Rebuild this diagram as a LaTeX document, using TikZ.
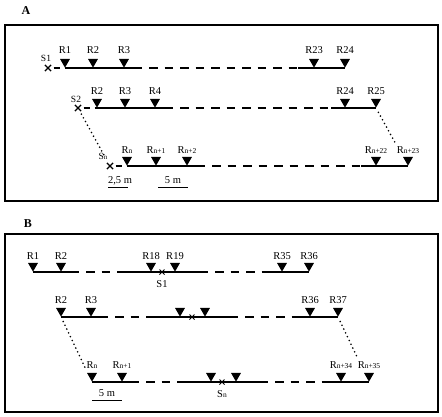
\documentclass[tikz,border=0pt]{standalone}
\usepackage{fontspec}
\setmainfont{Liberation Serif}
\usetikzlibrary{shapes.geometric,shapes.misc}
\newcommand\rsub[1]{R{\fontsize{7.5}{8}\selectfont #1}}
\begin{document}
\begin{tikzpicture}[x=1pt,y=-1pt,
  rec/.style={regular polygon, regular polygon sides=3, shape border rotate=180,
    fill=black, draw=none, inner sep=0pt, minimum size=11.5pt, anchor=corner 1},
  lbl/.style={inner sep=0pt, anchor=base, font=\fontsize{10.5}{12}\selectfont},
  slbl/.style={inner sep=0pt, font=\fontsize{9.5}{10}\selectfont},
  seg/.style={line width=1.4pt},
  dseg/.style={line width=1.4pt, dash pattern=on 8.5pt off 7pt, dash phase=8.5pt},
  dotseg/.style={line width=1.8pt, line cap=round, dash pattern=on 0pt off 4.2pt},
  xmark/.style={cross out, draw, line width=1.2pt, minimum size=5pt, inner sep=0pt},
  bmark/.style={cross out, draw, line width=1pt, minimum size=4pt, inner sep=0pt},
  frame/.style={line width=1.2pt},
  bar/.style={line width=1pt}]
\useasboundingbox (0,0) rectangle (442,416);
% ---------------- Panel A ----------------
\node[font=\bfseries\fontsize{12}{14}\selectfont, inner sep=0pt] (tA) at (26,11) {A};
\draw[frame] (5,25) rectangle (438,201);
% row 1
\node[xmark] (aS1) at (48,68) {};
\node[slbl] (aS1l) at (46,58) {S1};
\node[rec] (a1r1) at (65,68) {};
\node[rec] (a1r2) at (93,68) {};
\node[rec] (a1r3) at (124,68) {};
\node[rec] (a1r23) at (314,68) {};
\node[rec] (a1r24) at (345,68) {};
\coordinate (a1e) at (142,68);
\coordinate (a1b) at (298,68);
\node[lbl] (a1l1) at (65,53) {R1};
\node[lbl] (a1l2) at (93,53) {R2};
\node[lbl] (a1l3) at (124,53) {R3};
\node[lbl] (a1l23) at (314,53) {R23};
\node[lbl] (a1l24) at (345,53) {R24};
\draw[line width=1.2pt, dash pattern=on 6pt off 5pt, dash phase=8pt] (aS1.center) ++(2.5,0) -- (a1r1.corner 1);
\draw[seg] (a1r1.corner 1) -- (a1e);
\draw[dseg] (a1e) -- (a1b);
\draw[seg] (a1b) -- (a1r24.corner 1);
% row 2
\node[xmark] (aS2) at (78,108) {};
\node[slbl] (aS2l) at (76,99) {S2};
\node[rec] (a2r2) at (97,108) {};
\node[rec] (a2r3) at (125,108) {};
\node[rec] (a2r4) at (155,108) {};
\node[rec] (a2r24) at (345,108) {};
\node[rec] (a2r25) at (376,108) {};
\coordinate (a2e) at (173,108);
\coordinate (a2b) at (331,108);
\node[lbl] (a2l2) at (97,94) {R2};
\node[lbl] (a2l3) at (125,94) {R3};
\node[lbl] (a2l4) at (155,94) {R4};
\node[lbl] (a2l24) at (345,94) {R24};
\node[lbl] (a2l25) at (376,94) {R25};
\draw[line width=1.2pt, dash pattern=on 6pt off 5pt, dash phase=8pt] (aS2.center) ++(2.5,0) -- (a2r2.corner 1);
\draw[seg] (a2r2.corner 1) -- (a2e);
\draw[dseg] (a2e) -- (a2b);
\draw[seg] (a2b) -- (a2r25.corner 1);
% row 3
\node[xmark] (aSn) at (110,166) {};
\node[slbl] (aSnl) at (103,156) {S{\fontsize{7}{8}\selectfont n}};
\node[rec] (a3r1) at (127,166) {};
\node[rec] (a3r2) at (156,166) {};
\node[rec] (a3r3) at (187,166) {};
\node[rec] (a3r22) at (376,166) {};
\node[rec] (a3r23) at (408,166) {};
\coordinate (a3e) at (205,166);
\coordinate (a3b) at (361,166);
\node[lbl] (a3l1) at (127,153) {\rsub{n}};
\node[lbl] (a3l2) at (156,153) {\rsub{n+1}};
\node[lbl] (a3l3) at (187,153) {\rsub{n+2}};
\node[lbl] (a3l22) at (376,153) {\rsub{n+22}};
\node[lbl] (a3l23) at (408,153) {\rsub{n+23}};
\draw[line width=1.2pt, dash pattern=on 6pt off 5pt, dash phase=8pt] (aSn.center) ++(2.5,0) -- (a3r1.corner 1);
\draw[seg] (a3r1.corner 1) -- (a3e);
\draw[dseg] (a3e) -- (a3b);
\draw[seg] (a3b) -- (a3r23.corner 1);
% dotted links
\draw[dotseg, shorten <=7pt, shorten >=9pt] (aS2.center) -- (aSn.center);
\draw[dotseg, shorten <=5pt, shorten >=27pt] (a2r25.corner 1) -- (a3r23.corner 1);
% scale bars
\node[lbl] (sc1) at (120,183) {2,5 m};
\coordinate (sc1a) at (108,187); \coordinate (sc1b) at (128,187);
\draw[bar] (sc1a) -- (sc1b);
\node[lbl] (sc2) at (173,183) {5 m};
\coordinate (sc2a) at (158,187); \coordinate (sc2b) at (188,187);
\draw[bar] (sc2a) -- (sc2b);
% ---------------- Panel B ----------------
\node[font=\bfseries\fontsize{12}{14}\selectfont, inner sep=0pt] (tB) at (28,224) {B};
\draw[frame] (5,234) rectangle (438,412);
% row 1
\node[rec] (b1r1) at (33,272) {};
\node[rec] (b1r2) at (61,272) {};
\node[rec] (b1r18) at (151,272) {};
\node[rec] (b1r19) at (175,272) {};
\node[rec] (b1r35) at (282,272) {};
\node[rec] (b1r36) at (309,272) {};
\node[bmark] (bS1) at (162,272) {};
\node[lbl] (bS1l) at (162,287) {S1};
\coordinate (b1e1) at (79,272); \coordinate (b1b1) at (119,272);
\coordinate (b1e2) at (208,272); \coordinate (b1b2) at (266,272);
\node[lbl] (b1l1) at (33,259) {R1};
\node[lbl] (b1l2) at (61,259) {R2};
\node[lbl] (b1l18) at (151,259) {R18};
\node[lbl] (b1l19) at (175,259) {R19};
\node[lbl] (b1l35) at (282,259) {R35};
\node[lbl] (b1l36) at (309,259) {R36};
\draw[seg] (b1r1.corner 1) -- (b1e1);
\draw[dseg] (b1e1) -- (b1b1);
\draw[seg] (b1b1) -- (b1e2);
\draw[dseg] (b1e2) -- (b1b2);
\draw[seg] (b1b2) -- (b1r36.corner 1);
% row 2
\node[rec] (b2r2) at (61,317) {};
\node[rec] (b2r3) at (91,317) {};
\node[rec] (b2ra) at (180,317) {};
\node[rec] (b2rb) at (205,317) {};
\node[rec] (b2r36) at (310,317) {};
\node[rec] (b2r37) at (338,317) {};
\node[bmark] (bS2) at (192,317) {};
\coordinate (b2e1) at (108,317); \coordinate (b2b1) at (148,317);
\coordinate (b2e2) at (238,317); \coordinate (b2b2) at (297,317);
\node[lbl] (b2l2) at (61,303) {R2};
\node[lbl] (b2l3) at (91,303) {R3};
\node[lbl] (b2l36) at (310,303) {R36};
\node[lbl] (b2l37) at (338,303) {R37};
\draw[seg] (b2r2.corner 1) -- (b2e1);
\draw[dseg] (b2e1) -- (b2b1);
\draw[seg] (b2b1) -- (b2e2);
\draw[dseg] (b2e2) -- (b2b2);
\draw[seg] (b2b2) -- (b2r37.corner 1);
% row 3
\node[rec] (b3r1) at (92,382) {};
\node[rec] (b3r2) at (122,382) {};
\node[rec] (b3ra) at (211,382) {};
\node[rec] (b3rb) at (236,382) {};
\node[rec] (b3r34) at (341,382) {};
\node[rec] (b3r35) at (369,382) {};
\node[bmark] (bSn) at (222,382) {};
\node[lbl] (bSnl) at (222,397) {S{\fontsize{7.5}{8}\selectfont n}};
\coordinate (b3e1) at (139,382); \coordinate (b3b1) at (179,382);
\coordinate (b3e2) at (268,382); \coordinate (b3b2) at (327,382);
\node[lbl] (b3l1) at (92,368) {\rsub{n}};
\node[lbl] (b3l2) at (122,368) {\rsub{n+1}};
\node[lbl] (b3l34) at (341,368) {\rsub{n+34}};
\node[lbl] (b3l35) at (369,368) {\rsub{n+35}};
\draw[seg] (b3r1.corner 1) -- (b3e1);
\draw[dseg] (b3e1) -- (b3b1);
\draw[seg] (b3b1) -- (b3e2);
\draw[dseg] (b3e2) -- (b3b2);
\draw[seg] (b3b2) -- (b3r35.corner 1);
% dotted links
\draw[dotseg, shorten <=5pt, shorten >=16pt] (b2r2.corner 1) -- (b3r1.corner 1);
\draw[dotseg, shorten <=5pt, shorten >=26pt] (b2r37.corner 1) -- (b3r35.corner 1);
% scale bar
\node[lbl] (sc3) at (107,396) {5 m};
\coordinate (sc3a) at (92,400); \coordinate (sc3b) at (122,400);
\draw[bar] (sc3a) -- (sc3b);
\end{tikzpicture}
\end{document}
